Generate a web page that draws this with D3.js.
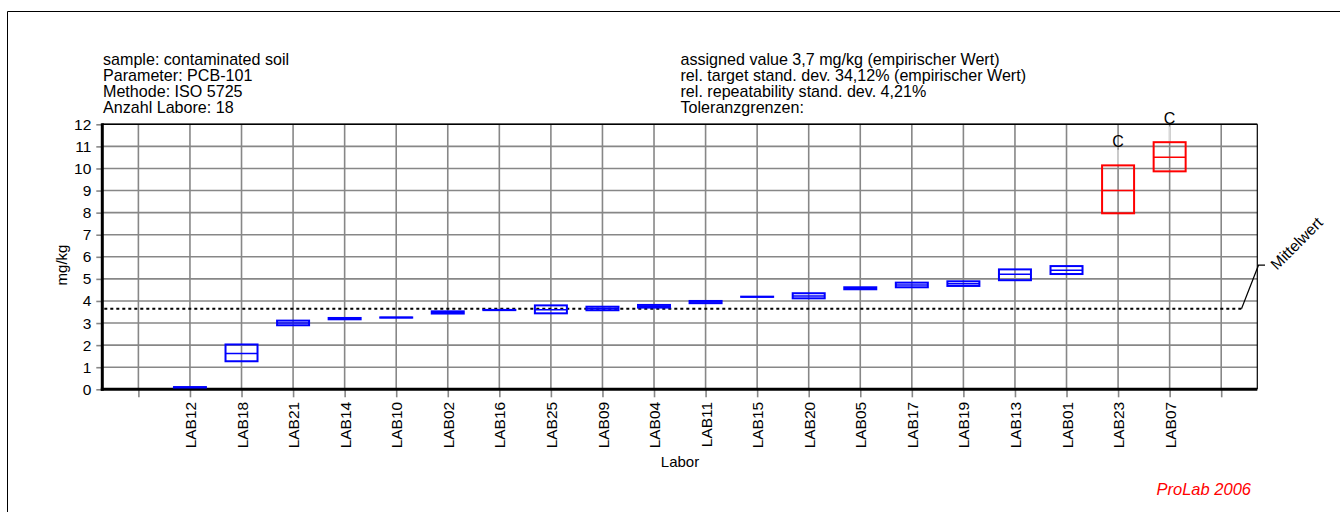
<!DOCTYPE html>
<html><head><meta charset="utf-8">
<script src="https://cdn.jsdelivr.net/npm/d3@7"></script>
<style>
body{margin:0;background:#fff;}
svg{display:block;font-family:"Liberation Sans",Arial,sans-serif;}
</style></head>
<body><svg id="c" width="1340" height="512"></svg>
<script>
const labs = ["LAB12","LAB18","LAB21","LAB14","LAB10","LAB02","LAB16","LAB25","LAB09","LAB04","LAB11","LAB15","LAB20","LAB05","LAB17","LAB19","LAB13","LAB01","LAB23","LAB07"];
const q1  = [0.08,1.27,2.90,3.17,3.245,3.43,3.585,3.44,3.58,3.70,3.90,4.185,4.12,4.53,4.62,4.68,4.94,5.22,7.97,9.87];
const med = [0.09,1.62,3.00,3.20,3.25,3.48,3.59,3.60,3.66,3.76,3.95,4.19,4.23,4.57,4.72,4.78,5.21,5.39,9.00,10.51];
const q3  = [0.10,2.03,3.11,3.23,3.255,3.53,3.595,3.80,3.74,3.82,4.00,4.195,4.35,4.62,4.83,4.89,5.43,5.58,10.14,11.19];
const maxVals = [null,null,null,null,null,null,null,null,null,null,null,null,null,null,null,null,null,null,10.85,11.90];
const flags = ["","","","","","","","","","","","","","","","","","","C","C"];
const yTicks = [0,1,2,3,4,5,6,7,8,9,10,11,12];
const mittelwert = 3.65;
const headerLeft = ["sample: contaminated soil","Parameter: PCB-101","Methode: ISO 5725","Anzahl Labore: 18"];
const headerRight = ["assigned value 3,7 mg/kg (empirischer Wert)","rel. target stand. dev. 34,12% (empirischer Wert)","rel. repeatability stand. dev. 4,21%","Toleranzgrenzen:"];

const svg = d3.select("#c");
const L = 102.3, R = 1257.3, T = 124.3, B = 389.3;
const x = d3.scaleLinear().domain([-0.7, labs.length + 1.7]).range([L, R]);
const y = d3.scaleLinear().domain([0, 12]).range([B, T]);
const slots = d3.range(0, labs.length + 2);

// outer frame
svg.append("line").attr("x1",7.5).attr("x2",1340).attr("y1",11.5).attr("y2",11.5).attr("stroke","#000").attr("stroke-width",1);
svg.append("line").attr("x1",7.5).attr("x2",7.5).attr("y1",11.5).attr("y2",512).attr("stroke","#000").attr("stroke-width",1);

// header text
const hl = svg.append("text").attr("font-size",16.1).attr("fill","#000");
headerLeft.forEach((t,i)=>hl.append("tspan").attr("x",103).attr("y",64.5+i*16).text(t));
const hr = svg.append("text").attr("font-size",16.1).attr("fill","#000");
headerRight.forEach((t,i)=>hr.append("tspan").attr("x",680.5).attr("y",64.5+i*16).text(t));

// grid
const g = svg.append("g");
g.selectAll("line.hg").data(yTicks.slice(1)).join("line")
  .attr("x1",L).attr("x2",R).attr("y1",d=>y(d)).attr("y2",d=>y(d))
  .attr("stroke","#878787").attr("stroke-width",1.6);
g.selectAll("line.vg").data(slots).join("line")
  .attr("x1",d=>x(d)).attr("x2",d=>x(d)).attr("y1",T).attr("y2",B)
  .attr("stroke","#878787").attr("stroke-width",1.6);

// y axis
const ya = svg.append("g").attr("transform",`translate(${L},0)`)
  .call(d3.axisLeft(y).tickValues(yTicks).tickSize(6).tickPadding(5).tickFormat(d3.format("d")));
ya.select(".domain").remove();
ya.selectAll(".tick line").attr("stroke","#878787").attr("stroke-width",1.6);
ya.selectAll(".tick text").attr("font-size",15.5).attr("font-family","Liberation Sans, Arial, sans-serif").attr("fill","#000");

// x axis
const xa = svg.append("g").attr("transform",`translate(0,${B})`)
  .call(d3.axisBottom(x).tickValues(slots).tickSize(8).tickFormat(d => (d>=1 && d<=labs.length) ? labs[d-1] : ""));
xa.select(".domain").remove();
xa.selectAll(".tick line").attr("stroke","#878787").attr("stroke-width",1.6);
xa.selectAll(".tick text")
  .attr("font-size",15.5).attr("font-family","Liberation Sans, Arial, sans-serif").attr("fill","#000")
  .attr("transform","rotate(-90)").attr("text-anchor","end")
  .attr("x",-12.5).attr("y",0).attr("dy","0.36em");

// frame: top & right thin, left & bottom thick
svg.append("line").attr("x1",L).attr("x2",R).attr("y1",T).attr("y2",T).attr("stroke","#000").attr("stroke-width",1.5);
svg.append("line").attr("x1",R).attr("x2",R).attr("y1",T).attr("y2",B).attr("stroke","#000").attr("stroke-width",1.2);
svg.append("line").attr("x1",L).attr("x2",L).attr("y1",T-1).attr("y2",B+1.5).attr("stroke","#000").attr("stroke-width",3);
svg.append("line").attr("x1",L-1.5).attr("x2",R).attr("y1",B).attr("y2",B).attr("stroke","#000").attr("stroke-width",3);

// Mittelwert dashed line
svg.append("line").attr("x1",L+2).attr("x2",1242).attr("y1",y(mittelwert)).attr("y2",y(mittelwert))
  .attr("stroke","#000").attr("stroke-width",2).attr("stroke-dasharray","3,3");
svg.append("polyline").attr("points",`1241.5,${y(mittelwert)} 1258.5,${y(mittelwert)-43.5} 1265,${y(mittelwert)-43.5}`)
  .attr("fill","none").attr("stroke","#000").attr("stroke-width",1.2);
svg.append("text").attr("transform",`translate(1277,${y(mittelwert)-38}) rotate(-45)`)
  .attr("font-size",15.5).attr("fill","#000").text("Mittelwert");

// boxes
const bw = 32;
const boxes = svg.append("g");
labs.forEach((lab,i)=>{
  const cx = x(i+1);
  const col = flags[i] ? "#ff0000" : "#0000ff";
  if (maxVals[i] != null) {
    boxes.append("line").attr("x1",cx).attr("x2",cx).attr("y1",y(q3[i])).attr("y2",y(maxVals[i]))
      .attr("stroke","#d8d8d8").attr("stroke-width",1.5);
  }
  boxes.append("rect").attr("x",cx-bw/2).attr("width",bw)
    .attr("y",y(q3[i])).attr("height",Math.max(0.01,y(q1[i])-y(q3[i])))
    .attr("fill","none").attr("stroke",col).attr("stroke-width",2);
  boxes.append("line").attr("x1",cx-bw/2).attr("x2",cx+bw/2).attr("y1",y(med[i])).attr("y2",y(med[i]))
    .attr("stroke",col).attr("stroke-width",1.5);
  if (flags[i]) {
    boxes.append("text").attr("x",cx).attr("y",y(maxVals[i])-3).attr("text-anchor","middle")
      .attr("font-size",16).attr("fill","#000").text(flags[i]);
  }
});

// axis titles
svg.append("text").attr("transform","translate(67,265) rotate(-90)").attr("text-anchor","middle")
  .attr("font-size",15).attr("fill","#000").text("mg/kg");
svg.append("text").attr("x",680).attr("y",467).attr("text-anchor","middle")
  .attr("font-size",15).attr("fill","#000").text("Labor");
svg.append("text").attr("x",1251).attr("y",495).attr("text-anchor","end")
  .attr("font-size",16.5).attr("font-style","italic").attr("fill","#ff0000").text("ProLab 2006");
</script></body></html>
